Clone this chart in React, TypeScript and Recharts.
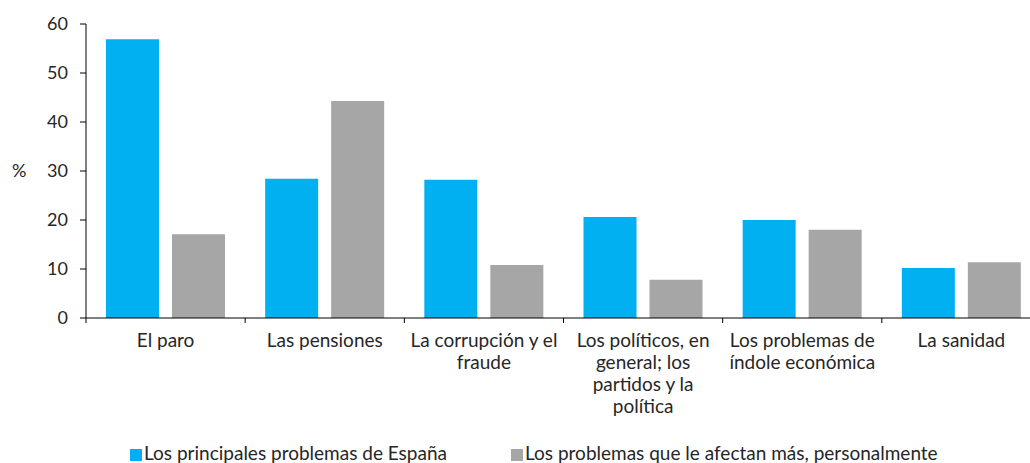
import React from 'react';
import { BarChart, Bar, XAxis, YAxis, Legend } from 'recharts';

const categories = [
  'El paro',
  'Las pensiones',
  'La corrupción y el fraude',
  'Los políticos, en general; los partidos y la política',
  'Los problemas de índole económica',
  'La sanidad',
];
const tickLines = [
  ['El paro'],
  ['Las pensiones'],
  ['La corrupción y el', 'fraude'],
  ['Los políticos, en', 'general; los', 'partidos y la', 'política'],
  ['Los problemas de', 'índole económica'],
  ['La sanidad'],
];
const espana = [56.9, 28.4, 28.2, 20.6, 20.0, 10.2];
const personal = [17.1, 44.3, 10.8, 7.8, 18.0, 11.4];
const yTicks = [0, 10, 20, 30, 40, 50, 60];
const seriesNames = ['Los principales problemas de España', 'Los problemas que le afectan más, personalmente'];
const colors = ['#00B0F0', '#A6A6A6'];

const data = categories.map((c, i) => ({ category: c, espana: espana[i], personal: personal[i] }));

const FONT = 'Lato, "Open Sans", sans-serif';
const TEXT = '#262626';

const CategoryTick = (props: any) => {
  const { x, y, payload, index } = props;
  const half = payload && payload.offset ? payload.offset : 79.6;
  const axisY = y - 8;
  const lines = tickLines[index] || [String(payload.value)];
  return (
    <g>
      <line x1={x - half} y1={axisY} x2={x - half} y2={axisY + 5} stroke="#000" strokeWidth={1} />
      {index === categories.length - 1 && (
        <line x1={x + half} y1={axisY} x2={x + half} y2={axisY + 5} stroke="#000" strokeWidth={1} />
      )}
      <text textAnchor="middle" fill={TEXT} fontSize={19} fontFamily={FONT}>
        {lines.map((l, i) => (
          <tspan key={i} x={x} y={axisY + 29 + i * 22}>{l}</tspan>
        ))}
      </text>
    </g>
  );
};

const LegendContent = () => (
  <div style={{ position: 'relative', height: 30, fontFamily: FONT, fontSize: 19, color: TEXT }}>
    {seriesNames.map((n, i) => (
      <div key={n} style={{ position: 'absolute', left: i === 0 ? 130 : 511, top: 0, whiteSpace: 'nowrap', display: 'flex', alignItems: 'center' }}>
        <span style={{ display: 'inline-block', width: 12, height: 12, background: colors[i], marginRight: 2, marginTop: 4 }} />
        <span>{n}</span>
      </div>
    ))}
  </div>
);

export default function App() {
  return (
    <div style={{ position: 'fixed', left: 0, top: 0, width: 1030, height: 463, overflow: 'hidden', background: '#fff', fontFamily: FONT }}>
      <BarChart width={1045} height={463} data={data} margin={{ top: 24, right: 4, left: 0, bottom: 0 }} barGap={13} barSize={53}>
        <YAxis
          width={86}
          domain={[0, 60]}
          ticks={yTicks}
          interval={0}
          tickSize={6}
          tickMargin={12}
          axisLine={{ stroke: '#000' }}
          tickLine={{ stroke: '#000' }}
          tick={{ fill: TEXT, fontSize: 18, fontFamily: FONT }}
          label={{ value: '%', position: 'insideLeft', offset: 12, fill: TEXT, fontSize: 18, fontFamily: FONT }}
        />
        <XAxis
          dataKey="category"
          interval={0}
          height={115}
          tickSize={6}
          tickMargin={2}
          tickLine={false}
          axisLine={{ stroke: '#000' }}
          tick={<CategoryTick />}
        />
        <Legend
          verticalAlign="bottom"
          content={LegendContent}
          wrapperStyle={{ left: 0, top: 441, bottom: 'auto', width: 1045, height: 30 }}
        />
        <Bar dataKey="espana" name={seriesNames[0]} fill={colors[0]} isAnimationActive={false} />
        <Bar dataKey="personal" name={seriesNames[1]} fill={colors[1]} isAnimationActive={false} />
      </BarChart>
    </div>
  );
}
